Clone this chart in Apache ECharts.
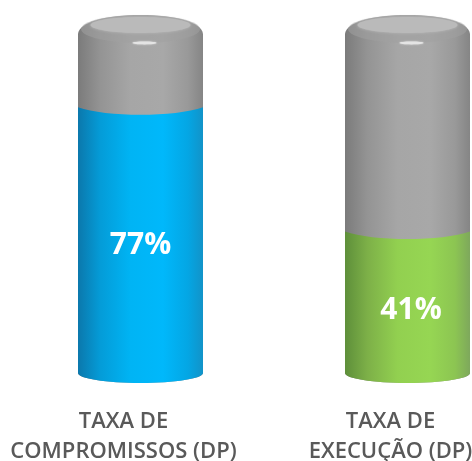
<!DOCTYPE html>
<html><head><meta charset="utf-8">
<style>html,body{margin:0;padding:0;background:#fff}#c{width:472px;height:461px}</style>
<script src="https://cdn.jsdelivr.net/npm/echarts@6/dist/echarts.min.js"></script>
</head><body><div id="c"></div>
<script>
const categories = ['TAXA DE\nCOMPROMISSOS (DP)', 'TAXA DE\nEXECUÇÃO (DP)'];
const rates = [77, 41];
const maxRate = [100];
const fillColors = [
  ['#0b78ac', '#049cd8', '#00b4f4', '#00b8fb', '#04a6e4', '#1293c8'],
  ['#5e8f3a', '#7db048', '#92d050', '#96d653', '#8cc552', '#7ea85c']
];
const trackColors = ['#7b7b7b', '#949494', '#a6a6a6', '#a8a8a8', '#999999', '#858585'];

const grad = (cols) => ({type:'linear',x:0,y:0,x2:1,y2:0,colorStops:[
  {offset:0,color:cols[0]},{offset:.18,color:cols[1]},{offset:.42,color:cols[2]},
  {offset:.68,color:cols[3]},{offset:.88,color:cols[4]},{offset:1,color:cols[5]}]});

function renderItem(params, api) {
  const i = api.value(0), v = api.value(1);
  const base = api.coord([i, 0]), top = api.coord([i, maxRate[0]]), lvl = api.coord([i, v]);
  const mid = api.coord([i, v / 2]);
  const cx = base[0], w = 125, r = w / 2, ry = 10;
  const L = cx - r, R = cx + r;
  const k = 0.55;
  const bottomArc = (y) => `C${R} ${y+ry*k} ${cx+r*k} ${y+ry} ${cx} ${y+ry} C${cx-r*k} ${y+ry} ${L} ${y+ry*k} ${L} ${y}`;
  const t = top[1];
  const dome = `L${L} ${t+6} C${L+1} ${t-6} ${cx-34} ${t-13} ${cx} ${t-13} C${cx+34} ${t-13} ${R-1} ${t-6} ${R} ${t+6}`;
  const track = `M${L} ${base[1]} ${dome} L${R} ${base[1]} ` + bottomArc(base[1]) + 'Z';
  const fill = `M${L} ${base[1]} L${L} ${lvl[1]} C${cx-r*k} ${lvl[1]+ry} ${cx+r*k} ${lvl[1]+ry} ${R} ${lvl[1]} L${R} ${base[1]} ` + bottomArc(base[1]) + 'Z';
  return {type:'group', children:[
    {type:'path', shape:{pathData:track}, style:{fill:grad(trackColors)}},
    {type:'ellipse', shape:{cx:cx, cy:t+1, rx:r-3, ry:14}, style:{fill:'#a0a0a0', opacity:.55}},
    {type:'ellipse', shape:{cx:cx, cy:t-3, rx:50, ry:8}, style:{fill:'#bababa', shadowBlur:3, shadowColor:'#bababa'}},
    {type:'ellipse', shape:{cx:cx+4, cy:t+15, rx:12, ry:1.4}, style:{fill:'#e4e4e4', shadowBlur:2, shadowColor:'#dddddd'}},
    {type:'path', shape:{pathData:fill}, style:{fill:grad(fillColors[i])}},
    {type:'text', style:{text:v + '%', x:cx + (i ? 3.5 : 0), y:mid[1] + (i ? 8 : 5), align:'center', verticalAlign:'middle',
      fill:'#fff', font:'bold 30px "Open Sans", sans-serif'}}
  ]};
}

const chart = echarts.init(document.getElementById('c'), null, {renderer:'canvas'});
chart.setOption({
  animation:false,
  grid:{left:7, width:534, top:28, bottom:88, outerBoundsMode:'none'},
  xAxis:{type:'category', data:categories, axisLine:{show:false}, axisTick:{show:false},
    axisLabel:{margin:34, padding:[0,34,0,0], color:'#595959', fontFamily:'"Open Sans", sans-serif',
      fontWeight:600, fontSize:22, lineHeight:30, interval:0, hideOverlap:false}},
  yAxis:{type:'value', min:0, max:maxRate[0], show:false},
  series:[{type:'custom', coordinateSystem:'cartesian2d', clip:false, renderItem,
    encode:{x:0, y:1}, data:rates.map((v,i)=>[i,v])}]
});
</script></body></html>
